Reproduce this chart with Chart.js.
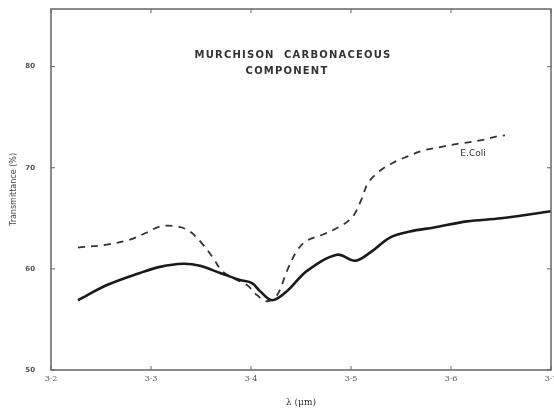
<!DOCTYPE html>
<html>
<head>
<meta charset="utf-8">
<script src="https://cdn.jsdelivr.net/npm/chart.js@4.4.0/dist/chart.umd.min.js"></script>
<style>
    html, body { margin: 0; padding: 0; background: #fff; }
    #wrap { width: 554px; height: 412px; }
</style>
</head>
<body>
<div id="wrap"><canvas id="chart" width="554" height="412"></canvas></div>
<script>
// Murchison carbonaceous component (solid) vs E. coli (dashed)
const murchisonX = [3.227, 3.256, 3.289, 3.309, 3.332, 3.349, 3.369, 3.389, 3.401, 3.409, 3.421, 3.436, 3.456, 3.486, 3.504, 3.519, 3.539, 3.559, 3.583, 3.616, 3.650, 3.700];
const murchisonY = [56.9, 58.4, 59.6, 60.2, 60.5, 60.3, 59.6, 58.9, 58.6, 57.8, 56.9, 57.8, 59.8, 61.4, 60.8, 61.6, 63.1, 63.7, 64.1, 64.7, 65.0, 65.7];

const ecoliX = [3.227, 3.256, 3.279, 3.296, 3.309, 3.326, 3.339, 3.352, 3.362, 3.371, 3.382, 3.396, 3.406, 3.416, 3.426, 3.436, 3.446, 3.456, 3.472, 3.489, 3.502, 3.511, 3.517, 3.529, 3.542, 3.556, 3.572, 3.592, 3.609, 3.629, 3.646, 3.654];
const ecoliY = [62.1, 62.4, 62.9, 63.6, 64.2, 64.2, 63.7, 62.4, 61.1, 59.8, 59.1, 58.4, 57.4, 56.8, 57.4, 59.8, 61.8, 62.8, 63.4, 64.2, 65.2, 67.0, 68.5, 69.7, 70.5, 71.1, 71.7, 72.1, 72.4, 72.7, 73.1, 73.2];

const xTicks = [3.2, 3.3, 3.4, 3.5, 3.6, 3.7];
const yTicks = [50, 60, 70, 80];

const titleLines = ['MURCHISON  CARBONACEOUS', 'COMPONENT'];
const curveLabel = 'E.Coli';

const ink = '#1a1a1a';
const textGrey = '#555';

function toPoints(xs, ys) {
    return xs.map((x, i) => ({ x: x, y: ys[i] }));
}

// frame, inward ticks on all four sides, and the in-plot text
const framePlugin = {
    id: 'frame',
    afterDraw(chart) {
        const ctx = chart.ctx;
        const a = chart.chartArea;
        const xs = chart.scales.x;
        const ys = chart.scales.y;
        ctx.save();
        ctx.strokeStyle = '#666';
        ctx.lineWidth = 1.5;
        ctx.strokeRect(a.left, a.top, a.right - a.left, a.bottom - a.top);

        ctx.lineWidth = 1;
        xTicks.forEach(v => {
            const px = xs.getPixelForValue(v);
            ctx.beginPath();
            ctx.moveTo(px, a.bottom); ctx.lineTo(px, a.bottom - 4);
            ctx.moveTo(px, a.top); ctx.lineTo(px, a.top + 4);
            ctx.stroke();
        });
        yTicks.forEach(v => {
            const py = ys.getPixelForValue(v);
            ctx.beginPath();
            ctx.moveTo(a.left, py); ctx.lineTo(a.left + 4, py);
            ctx.moveTo(a.right, py); ctx.lineTo(a.right - 4, py);
            ctx.stroke();
        });

        // title inside the plot
        ctx.fillStyle = '#333';
        ctx.textAlign = 'center';
        ctx.textBaseline = 'middle';
        ctx.font = 'bold 10px "DejaVu Sans"';
        ctx.letterSpacing = '1.2px';
        const tx = xs.getPixelForValue(3.442);
        ctx.fillText(titleLines[0], tx, ys.getPixelForValue(81.1));
        ctx.fillText(titleLines[1], tx - 6, ys.getPixelForValue(79.5));

        // curve label
        ctx.letterSpacing = '0px';
        ctx.font = '9px "DejaVu Sans"';
        ctx.fillText(curveLabel, xs.getPixelForValue(3.622), ys.getPixelForValue(71.4));
        ctx.restore();
    }
};

const ctx = document.getElementById('chart').getContext('2d');
new Chart(ctx, {
    type: 'line',
    data: {
        datasets: [
            {
                label: 'Murchison',
                data: toPoints(murchisonX, murchisonY),
                borderColor: ink,
                borderWidth: 2.6,
                pointRadius: 0,
                tension: 0.35,
                fill: false
            },
            {
                label: 'E.Coli',
                data: toPoints(ecoliX, ecoliY),
                borderColor: '#333',
                borderWidth: 1.8,
                borderDash: [7, 6],
                pointRadius: 0,
                tension: 0.35,
                fill: false
            }
        ]
    },
    options: {
        responsive: false,
        animation: false,
        layout: { padding: { top: 9, right: 3, left: 0, bottom: 0 } },
        plugins: {
            legend: { display: false },
            tooltip: { enabled: false }
        },
        scales: {
            x: {
                type: 'linear',
                min: 3.2,
                max: 3.7,
                grid: { display: false, drawTicks: false, tickLength: 0 },
                border: { display: false },
                afterBuildTicks(scale) {
                    scale.ticks = xTicks.map(v => ({ value: v }));
                },
                afterFit(scale) {
                    scale.height = 42;
                    scale.paddingLeft = 0;
                    scale.paddingRight = 0;
                },
                ticks: {
                    padding: 4,
                    maxRotation: 0,
                    color: textGrey,
                    font: { family: 'DejaVu Serif', size: 8 },
                    callback: v => v.toFixed(1).replace('.', '·')
                },
                title: {
                    display: true,
                    text: 'λ (μm)',
                    color: '#333',
                    font: { family: 'DejaVu Serif', size: 9 },
                    padding: { top: 4, bottom: 4 }
                }
            },
            y: {
                type: 'linear',
                min: 50,
                max: 85.7,
                grid: { display: false, drawTicks: false, tickLength: 0 },
                border: { display: false },
                afterBuildTicks(scale) {
                    scale.ticks = yTicks.map(v => ({ value: v }));
                },
                afterFit(scale) {
                    scale.width = 51;
                    scale.paddingTop = 0;
                    scale.paddingBottom = 0;
                },
                ticks: {
                    padding: 16,
                    color: textGrey,
                    font: { family: 'DejaVu Sans', size: 7, weight: 'bold' }
                },
                title: {
                    display: true,
                    text: 'Transmittance (%)',
                    color: '#444',
                    font: { family: 'DejaVu Sans', size: 8 },
                    padding: { top: 9, bottom: 0 }
                }
            }
        }
    },
    plugins: [framePlugin]
});
</script>
</body>
</html>
